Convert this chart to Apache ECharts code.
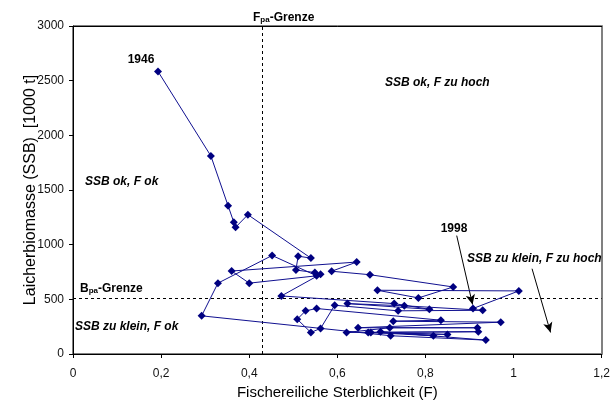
<!DOCTYPE html>
<html>
<head>
<meta charset="utf-8">
<script src="https://cdn.jsdelivr.net/npm/echarts@6/dist/echarts.min.js"></script>
<style>
html,body{margin:0;padding:0;background:#fff;}
#c{width:613px;height:405px;}
</style>
</head>
<body>
<div id="c"></div>
<script>
// Years 1946..1998
var years = [1946,1947,1948,1949,1950,1951,1952,1953,1954,1955,1956,1957,1958,1959,1960,1961,1962,1963,1964,1965,1966,1967,1968,1969,1970,1971,1972,1973,1974,1975,1976,1977,1978,1979,1980,1981,1982,1983,1984,1985,1986,1987,1988,1989,1990,1991,1992,1993,1994,1995,1996,1997,1998];
// Fishing mortality F
var fValues = [0.193,0.313,0.352,0.365,0.369,0.397,0.540,0.511,0.506,0.549,0.562,0.473,0.729,0.809,0.623,0.752,0.930,0.738,0.594,0.562,0.540,0.509,0.528,0.553,0.835,0.727,0.971,0.647,0.918,0.719,0.621,0.920,0.670,0.850,0.676,0.818,0.698,0.937,0.721,0.292,0.329,0.452,0.553,0.400,0.360,0.644,0.587,0.674,0.863,0.784,0.691,1.012,0.908];
// Spawning stock biomass SSB [1000 t]
var ssbValues = [2584,1811,1356,1205,1159,1274,877,895,768,745,730,531,461,409,461,441,400,395,446,234,197,318,395,416,309,300,291,240,240,240,197,204,197,179,197,167,204,127,167,349,648,901,715,648,759,841,757,725,613,513,583,577,416];
// Reference limits
var fpa = 0.43;
var bpa = 513;
// Axis settings
var xTicks = [0,0.2,0.4,0.6,0.8,1,1.2];
var yTicks = [0,500,1000,1500,2000,2500,3000];

var FONT = '"Liberation Sans", Arial, sans-serif';
var chart = echarts.init(document.getElementById('c'));

var pts = fValues.map(function(f,i){ return [f, ssbValues[i], years[i]]; });

function txt(x, y, text, opt){
  opt = opt || {};
  return {
    type: 'text', x: x, y: y, z: 100,
    style: {
      text: text,
      fill: '#000',
      font: (opt.style || 'bold') + ' ' + (opt.size || 12) + 'px ' + FONT,
      align: opt.align || 'left',
      verticalAlign: 'middle',
      rich: opt.rich
    }
  };
}

var option = {
  animation: false,
  backgroundColor: '#fff',
  grid: {left: 73, right: 11, top: 26, bottom: 49, containLabel: false,
    show: true, borderColor: '#000', borderWidth: 1, backgroundColor: 'transparent'},
  xAxis: [{
    type: 'value', min: xTicks[0], max: xTicks[xTicks.length-1], interval: 0.2,
    name: 'Fischereiliche Sterblichkeit (F)', nameLocation: 'middle', nameGap: 31,
    nameMoveOverlap: false,
    nameTextStyle: {fontFamily: FONT, fontSize: 15, color: '#000'},
    axisLine: {show: true, onZero: false, lineStyle: {color: '#000', width: 1}},
    axisTick: {show: true, length: 4, lineStyle: {color: '#000'}},
    axisLabel: {fontFamily: FONT, fontSize: 12, color: '#111', margin: 14,
      formatter: function(v){ return String(Math.round(v*10)/10).replace('.', ','); }},
    splitLine: {show: false}
  }, {
    type: 'value', position: 'top', min: 0, max: 1.2,
    axisLine: {show: true, onZero: false, lineStyle: {color: '#000', width: 1}},
    axisTick: {show: false}, axisLabel: {show: false}, splitLine: {show: false}
  }],
  yAxis: [{
    type: 'value', min: yTicks[0], max: yTicks[yTicks.length-1], interval: 500,
    name: 'Laicherbiomasse (SSB)  [1000 t]', nameLocation: 'middle', nameGap: 34, nameRotate: 90,
    nameMoveOverlap: false,
    nameTextStyle: {fontFamily: FONT, fontSize: 16, color: '#000'},
    axisLine: {show: true, onZero: false, lineStyle: {color: '#000', width: 1}},
    axisTick: {show: true, length: 4, lineStyle: {color: '#000'}},
    axisLabel: {fontFamily: FONT, fontSize: 12, color: '#111', margin: 9,
      formatter: function(v){ return String(v); }},
    splitLine: {show: false}
  }, {
    type: 'value', position: 'right', min: 0, max: 3000,
    axisLine: {show: true, onZero: false, lineStyle: {color: '#808080', width: 2}},
    axisTick: {show: false}, axisLabel: {show: false}, splitLine: {show: false}
  }],
  series: [{
    type: 'line',
    data: pts,
    symbol: 'diamond', symbolSize: 8,
    itemStyle: {color: '#000080'},
    lineStyle: {color: '#101090', width: 1},
    z: 5,
    markLine: {
      silent: true, symbol: 'none', animation: false,
      label: {show: false},
      lineStyle: {color: '#000', width: 1, type: [3,3]},
      data: [{xAxis: fpa}, {yAxis: bpa}]
    }
  }, {
    type: 'line', data: [], silent: true,
    markLine: {
      silent: true, animation: false, symbol: ['none','arrow'], symbolSize: [7, 10],
      label: {show: false},
      lineStyle: {color: '#000', width: 1, type: 'solid'},
      data: [
        [{coord: [0.871, 1083]}, {coord: [0.907, 452]}],
        [{coord: [1.042, 780]}, {coord: [1.084, 197]}]
      ]
    }
  }],
  graphic: [
    txt(141, 60, '1946', {align: 'center'}),
    txt(454, 229, '1998', {align: 'center'}),
    txt(85, 182, 'SSB ok, F ok', {style: 'italic bold'}),
    txt(385, 83, 'SSB ok, F zu hoch', {style: 'italic bold'}),
    txt(75, 327, 'SSB zu klein, F ok', {style: 'italic bold'}),
    txt(467, 259, 'SSB zu klein, F zu hoch', {style: 'italic bold'}),
    txt(253, 17, '{b|F}{s|pa}{b|-Grenze}', {rich: {
      b: {fontFamily: FONT, fontWeight: 'bold', fontSize: 12, lineHeight: 14, verticalAlign: 'bottom'},
      s: {fontFamily: FONT, fontWeight: 'bold', fontSize: 8, lineHeight: 10, verticalAlign: 'bottom', padding: [3,0,0,0]}
    }}),
    txt(80, 288, '{b|B}{s|pa}{b|-Grenze}', {rich: {
      b: {fontFamily: FONT, fontWeight: 'bold', fontSize: 12, lineHeight: 14, verticalAlign: 'bottom'},
      s: {fontFamily: FONT, fontWeight: 'bold', fontSize: 8, lineHeight: 10, verticalAlign: 'bottom', padding: [3,0,0,0]}
    }})
  ]
};
chart.setOption(option);
</script>
</body>
</html>
